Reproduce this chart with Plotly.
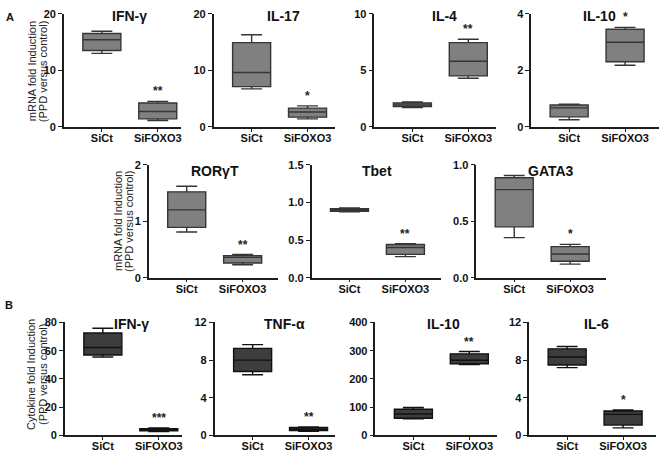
import plotly.graph_objects as go

# ---------------- data (five-number summaries: [min, q1, median, q3, max]) ----------------
groups = ["SiCt", "SiFOXO3"]

ifng_mrna_sict = [13.0, 13.5, 15.4, 16.5, 16.9]
ifng_mrna_sifoxo3 = [1.1, 1.4, 2.7, 4.2, 4.5]
il17_mrna_sict = [6.7, 7.1, 9.6, 14.9, 16.3]
il17_mrna_sifoxo3 = [1.4, 1.7, 2.6, 3.3, 3.7]
il4_mrna_sict = [1.7, 1.78, 1.93, 2.1, 2.2]
il4_mrna_sifoxo3 = [4.3, 4.5, 5.8, 7.45, 7.75]
il10_mrna_sict = [0.25, 0.35, 0.67, 0.77, 0.8]
il10_mrna_sifoxo3 = [2.18, 2.3, 2.99, 3.45, 3.52]
rorgt_mrna_sict = [0.81, 0.89, 1.2, 1.52, 1.62]
rorgt_mrna_sifoxo3 = [0.23, 0.26, 0.36, 0.39, 0.41]
tbet_mrna_sict = [0.875, 0.882, 0.9, 0.915, 0.925]
tbet_mrna_sifoxo3 = [0.28, 0.31, 0.40, 0.44, 0.45]
gata3_mrna_sict = [0.355, 0.45, 0.78, 0.885, 0.905]
gata3_mrna_sifoxo3 = [0.12, 0.145, 0.21, 0.275, 0.295]

ifng_cyto_sict = [55.6, 57.0, 62.3, 72.6, 75.9]
ifng_cyto_sifoxo3 = [2.8, 3.3, 3.9, 4.8, 5.3]
tnfa_cyto_sict = [6.45, 6.8, 8.0, 9.25, 9.65]
tnfa_cyto_sifoxo3 = [0.45, 0.52, 0.69, 0.86, 0.9]
il10_cyto_sict = [59, 61, 76, 93, 99]
il10_cyto_sifoxo3 = [251, 254, 266, 289, 297]
il6_cyto_sict = [7.2, 7.48, 8.34, 9.2, 9.45]
il6_cyto_sifoxo3 = [0.8, 1.1, 2.24, 2.6, 2.7]

panel_titles = ["IFN-γ", "IL-17", "IL-4", "IL-10", "RORγT", "Tbet", "GATA3",
                "IFN-γ", "TNF-α", "IL-10", "IL-6"]
significance = ["**", "*", "**", "*", "**", "**", "*", "***", "**", "**", "*"]
y_max = [20, 20, 10, 4, 2, 1.5, 1.0, 80, 12, 400, 12]
y_step = [10, 10, 5, 2, 1, 0.5, 0.5, 20, 4, 100, 4]
y_fmt = ["d", "d", "d", "d", "d", ".1f", ".1f", "d", "d", "d", "d"]

series = [
    (ifng_mrna_sict, ifng_mrna_sifoxo3), (il17_mrna_sict, il17_mrna_sifoxo3),
    (il4_mrna_sict, il4_mrna_sifoxo3), (il10_mrna_sict, il10_mrna_sifoxo3),
    (rorgt_mrna_sict, rorgt_mrna_sifoxo3), (tbet_mrna_sict, tbet_mrna_sifoxo3),
    (gata3_mrna_sict, gata3_mrna_sifoxo3),
    (ifng_cyto_sict, ifng_cyto_sifoxo3), (tnfa_cyto_sict, tnfa_cyto_sifoxo3),
    (il10_cyto_sict, il10_cyto_sifoxo3), (il6_cyto_sict, il6_cyto_sifoxo3),
]

# ---------------- layout (page pixels) ----------------
W, H = 669, 458

def px(x):
    return x / W

def py(y):
    return 1 - y / H

# x0 (y-axis line), x1 (x-axis end), top, bottom, title x, title y
frames = [
    (64, 181, 8, 124, 130, 10), (214, 336, 8, 124, 284, 10),
    (375, 497, 8, 124, 445, 10), (532, 660, 8, 124, 600, 10),
    (149, 278, 163, 279, 215, 169), (312, 442, 163, 279, 378, 169),
    (477, 607, 163, 279, 552, 169),
    (65, 182, 325, 441, 132, 327), (215, 336, 325, 441, 285, 327),
    (376, 498, 325, 441, 444, 327), (530, 657, 325, 441, 597, 327),
]
SPACING = 56.0
FIRST = 38.0
FONT = "Arial, Liberation Sans, sans-serif"

fig = go.Figure()
annotations = []
axis_color = "#1e1e1e"

for i, (vals, fr) in enumerate(zip(series, frames)):
    n = i + 1
    sfx = "" if n == 1 else str(n)
    a, b = vals
    x0, x1, top, bot, tx, ty = fr
    row_b = i >= 7
    fill = "#3d3d3d" if row_b else "#808080"
    lc = "#111111" if row_b else "#353535"
    fig.add_trace(go.Box(
        x=[0, 1], lowerfence=[a[0], b[0]], q1=[a[1], b[1]], median=[a[2], b[2]],
        q3=[a[3], b[3]], upperfence=[a[4], b[4]],
        orientation="v", fillcolor=fill, line=dict(color=lc, width=1.4),
        width=0.68, whiskerwidth=0.55, boxpoints=False, hoverinfo="skip",
        showlegend=False, xaxis="x" + sfx, yaxis="y" + sfx,
    ))
    lo = -FIRST / SPACING
    hi = 1 + (x1 - x0 - FIRST - SPACING) / SPACING
    fig.update_layout(**{
        "xaxis" + sfx: dict(
            domain=[px(x0), px(x1)], range=[lo, hi], tickvals=[0, 1], ticktext=groups,
            showline=True, linecolor=axis_color, linewidth=1.5, ticks="outside",
            ticklen=3, tickcolor=axis_color, tickwidth=1.3,
            tickfont=dict(family=FONT, size=11, color="#111", weight="bold"),
            showgrid=False, zeroline=False, anchor="y" + sfx, fixedrange=True),
        "yaxis" + sfx: dict(
            domain=[py(bot), py(top)], range=[0, y_max[i]], tick0=0,
            dtick=y_step[i], tickformat=y_fmt[i], showline=True, linecolor=axis_color,
            linewidth=1.5, ticks="outside", ticklen=4, tickcolor=axis_color, tickwidth=1.3,
            tickfont=dict(family=FONT, size=11, color="#111", weight="bold"),
            showgrid=False, zeroline=False, anchor="x" + sfx, fixedrange=True),
    })
    annotations.append(dict(
        text=panel_titles[i], x=px(tx), y=py(ty), xref="paper", yref="paper",
        xanchor="center", yanchor="middle", showarrow=False,
        font=dict(family=FONT, size=14, color="#111", weight="bold")))
    annotations.append(dict(
        text=significance[i], x=1, y=b[4], xref="x" + sfx, yref="y" + sfx,
        xanchor="center", yanchor="bottom", yshift=1, showarrow=False,
        font=dict(family=FONT, size=12, color="#222", weight="bold")))

try:
    fig.update_xaxes(ticklabelstandoff=-3)
except Exception:
    pass

def ytitle(lines, xs, yc):
    for txt, xp in zip(lines, xs):
        annotations.append(dict(
            text=txt, x=px(xp), y=py(yc), xref="paper", yref="paper",
            xanchor="center", yanchor="middle", textangle=-90, showarrow=False,
            font=dict(family=FONT, size=11, color="#222")))

ytitle(["mRNA fold Induction", "(PPD versus control)"], [32, 43], 67)
ytitle(["mRNA fold Induction", "(PPD versus control)"], [118, 129], 221)
ytitle(["Cytokine fold Induction", "(PPD versus control)"], [31, 43], 378)

for lab, xp, yp in [("A", 10, 11), ("B", 9, 307)]:
    annotations.append(dict(
        text=lab, x=px(xp), y=py(yp), xref="paper", yref="paper",
        xanchor="center", yanchor="middle", showarrow=False,
        font=dict(family=FONT, size=11, color="#111", weight="bold")))

fig.update_layout(
    width=W, height=H, margin=dict(l=0, r=0, t=0, b=0),
    paper_bgcolor="white", plot_bgcolor="white",
    annotations=annotations, showlegend=False,
)

fig.write_html(
    "out.html",
    config={"displayModeBar": False},
    post_script="document.body.style.margin='0';document.documentElement.style.overflow='hidden';",
)
